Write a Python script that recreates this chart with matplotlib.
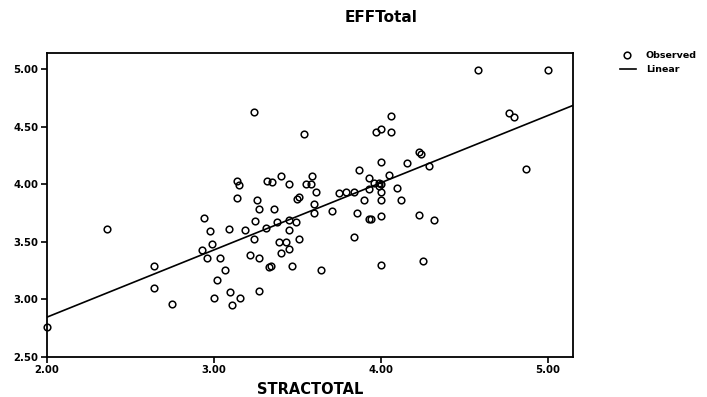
import matplotlib
matplotlib.use("Agg")
import matplotlib.pyplot as plt
from matplotlib.lines import Line2D
import numpy as np

plt.rcParams['font.family'] = ['DejaVu Sans']

title = "EFFTotal"
x_label = "STRACTOTAL"
legend_labels = ["Observed", "Linear"]

stractotal = [
    2.00, 2.36, 2.64, 2.64, 2.75, 2.94, 2.93, 2.98, 2.99, 2.96,
    3.04, 3.09, 3.07, 3.02, 3.00, 3.10, 3.11, 3.16, 3.14, 3.15,
    3.14, 3.24, 3.54, 4.06, 3.97, 4.00, 4.06, 4.00, 3.87, 4.05,
    3.93, 3.96, 3.99, 4.00, 4.10, 3.93, 4.00, 4.00, 4.12, 3.90,
    3.84, 3.79, 3.75, 3.86, 3.93, 3.94, 4.00, 3.84, 4.00, 3.71,
    3.61, 3.60, 3.60, 3.59, 3.55, 3.58, 3.51, 3.50, 3.45, 3.40,
    3.32, 3.35, 3.26, 3.27, 3.36, 3.25, 3.38, 3.45, 3.49, 3.31,
    3.45, 3.19, 3.24, 3.22, 3.27, 3.27, 3.33, 3.34, 3.40, 3.39,
    3.43, 3.45, 3.51, 3.47, 3.64, 4.58, 5.00, 4.77, 4.80, 4.87,
    4.23, 4.24, 4.16, 4.29, 4.23, 4.32, 4.25, 3.99,
]
efftotal = [
    2.76, 3.61, 3.29, 3.10, 2.96, 3.71, 3.43, 3.59, 3.48, 3.36,
    3.36, 3.61, 3.25, 3.17, 3.01, 3.06, 2.95, 3.01, 4.03, 3.99,
    3.88, 4.63, 4.44, 4.59, 4.45, 4.48, 4.45, 4.19, 4.12, 4.08,
    4.05, 4.01, 4.01, 4.00, 3.97, 3.96, 3.93, 3.86, 3.86, 3.86,
    3.93, 3.93, 3.92, 3.75, 3.70, 3.70, 3.72, 3.54, 3.30, 3.77,
    3.93, 3.83, 3.75, 4.07, 4.00, 4.00, 3.89, 3.87, 4.00, 4.07,
    4.03, 4.02, 3.86, 3.78, 3.78, 3.68, 3.67, 3.69, 3.67, 3.62,
    3.60, 3.60, 3.52, 3.38, 3.36, 3.07, 3.28, 3.29, 3.40, 3.50,
    3.50, 3.44, 3.52, 3.29, 3.25, 4.99, 4.99, 4.62, 4.58, 4.13,
    4.28, 4.26, 4.18, 4.16, 3.73, 3.69, 3.33, 3.98,
]

# linear fit
fit_intercept = 1.674
fit_slope = 0.5845

x_ticks = [2.00, 3.00, 4.00, 5.00]
y_ticks = [2.50, 3.00, 3.50, 4.00, 4.50, 5.00]
x_range = (2.00, 5.153)
y_range = (2.50, 5.142)

W, H = 707, 397
fig = plt.figure(figsize=(W / 100, H / 100), dpi=100)
ax = fig.add_axes([0.066, 0.1015, 0.745, 0.7655])

ax.plot(stractotal, efftotal, linestyle='none', marker='o', markersize=4.8,
        markerfacecolor='none', markeredgecolor='black', markeredgewidth=1.1,
        clip_on=False, zorder=3)
lx = np.array(x_range)
ax.plot(lx, fit_intercept + fit_slope * lx, color='black', linewidth=1.2, zorder=2)

ax.set_xlim(*x_range)
ax.set_ylim(*y_range)
ax.set_xticks(x_ticks)
ax.set_xticklabels([f"{v:.2f}" for v in x_ticks], fontsize=7.3, fontweight='bold')
ax.set_yticks(y_ticks)
ax.set_yticklabels([f"{v:.2f}" for v in y_ticks], fontsize=7.3, fontweight='bold')
ax.tick_params(direction='out', length=4, width=1.2, pad=2)
for s in ax.spines.values():
    s.set_linewidth(1.3)

ax.set_xlabel(x_label, fontsize=10.5, fontweight='bold', labelpad=5)
fig.text(381 / W, 1 - 17 / H, title, fontsize=11, fontweight='bold', ha='center', va='center')

# legend drawn in figure coordinates
fig.add_artist(Line2D([627 / W], [1 - 55 / H], marker='o', markersize=4.8,
                      markerfacecolor='none', markeredgecolor='black',
                      markeredgewidth=1.1, linestyle='none', transform=fig.transFigure))
fig.add_artist(Line2D([620 / W, 636 / W], [1 - 69 / H, 1 - 69 / H], color='black',
                      linewidth=1.2, transform=fig.transFigure))
fig.text(646 / W, 1 - 55 / H, legend_labels[0], fontsize=6.8, fontweight='bold',
         ha='left', va='center')
fig.text(646 / W, 1 - 69 / H, legend_labels[1], fontsize=6.8, fontweight='bold',
         ha='left', va='center')

fig.savefig("out.png", dpi=100)
